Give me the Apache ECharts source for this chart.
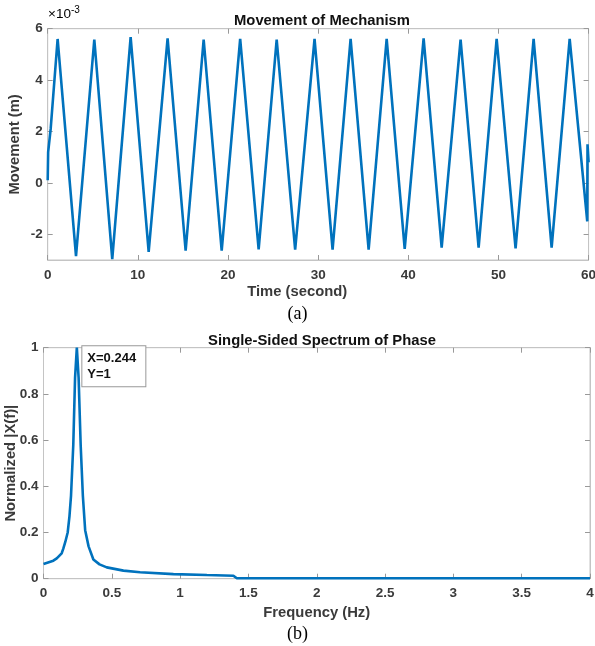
<!DOCTYPE html>
<html>
<head>
<meta charset="utf-8">
<script src="https://cdn.jsdelivr.net/npm/echarts@6/dist/echarts.min.js"></script>
<style>
  html, body { margin: 0; padding: 0; background: #fff; }
  #chart { width: 595px; height: 646px; }
</style>
</head>
<body>
<div id="chart"></div>
<script>
// (a) movement, values in units of 1e-3 m
var timeSec = [0, 0.05, 0.33, 1.1, 3.14, 5.17, 7.16, 9.2, 11.2, 13.3, 15.3, 17.3, 19.3, 21.35, 23.4, 25.4, 27.45,
  29.6, 31.6, 33.6, 35.6, 37.6, 39.6, 41.7, 43.7, 45.8, 47.8, 49.8, 51.9, 53.9, 55.9, 57.9, 59.85, 59.88, 60];
var movement = [0.1, 1.2, 2.1, 5.6, -2.85, 5.58, -2.97, 5.67, -2.68, 5.62, -2.64, 5.58, -2.64, 5.6, -2.59, 5.58, -2.6,
  5.6, -2.6, 5.6, -2.6, 5.6, -2.57, 5.62, -2.52, 5.58, -2.52, 5.6, -2.55, 5.6, -2.52, 5.6, -1.5, 1.5, 0.8];
var timeTicks = [0, 10, 20, 30, 40, 50, 60];
var moveTicks = [-2, 0, 2, 4, 6];

// (b) spectrum
var freqHz = [0, 0.072, 0.097, 0.133, 0.145, 0.16, 0.177, 0.19, 0.2015, 0.218, 0.231, 0.244, 0.257, 0.272, 0.288,
  0.305, 0.33, 0.365, 0.41, 0.463, 0.585, 0.707, 0.951, 1.196, 1.39, 1.415, 2.0, 3.0, 4.0];
var ampNorm = [0.064, 0.078, 0.088, 0.11, 0.13, 0.16, 0.2, 0.27, 0.36, 0.58, 0.87, 1, 0.87, 0.58, 0.36,
  0.21, 0.14, 0.083, 0.062, 0.049, 0.035, 0.028, 0.02, 0.016, 0.013, 0.002, 0.002, 0.002, 0.002];
var peakX = 0.244, peakY = 1;

var blue = '#0072BD';
var boxGray = '#c4c4c4';
var tickFont = { color: '#3a3a3a', fontWeight: 'bold', fontSize: 13.5, fontFamily: 'Liberation Sans' };
var nameFont = { color: '#3a3a3a', fontWeight: 'bold', fontSize: 14.8, fontFamily: 'Liberation Sans' };

function zip(a, b) {
  var r = [];
  for (var i = 0; i < a.length; i++) r.push([a[i], b[i]]);
  return r;
}

// mirrored box axis (top / right) with ticks only
function mirror(type, grid, min, max, interval, custom) {
  var ax = {
    type: 'value', gridIndex: grid, position: type === 'x' ? 'top' : 'right',
    min: min, max: max, interval: interval,
    axisLine: { show: true, onZero: false, lineStyle: { color: boxGray } },
    axisTick: { show: true, inside: true, length: 5, lineStyle: { color: '#999' } },
    axisLabel: { show: false },
    splitLine: { show: false }
  };
  if (custom) ax.axisTick.customValues = custom;
  return ax;
}

var chart = echarts.init(document.getElementById('chart'));
var option = {
  animation: false,
  backgroundColor: '#fff',
  title: [
    { text: 'Movement of Mechanism', left: 317, top: 8, textAlign: 'center',
      textStyle: { fontSize: 14.8, fontWeight: 'bold', color: '#111', fontFamily: 'Liberation Sans' } },
    { text: 'Single-Sided Spectrum of Phase', left: 317, top: 328, textAlign: 'center',
      textStyle: { fontSize: 14.8, fontWeight: 'bold', color: '#111', fontFamily: 'Liberation Sans' } }
  ],
  graphic: [
    { type: 'text', left: 48, top: 5, style: {
        text: '{a|×10}{b|-3}', rich: {
          a: { fontSize: 13.5, color: '#3a3a3a', fontFamily: 'Liberation Sans', verticalAlign: 'bottom', lineHeight: 16 },
          b: { fontSize: 10, color: '#3a3a3a', fontFamily: 'Liberation Sans', verticalAlign: 'top', lineHeight: 16 }
        } } },
    { type: 'text', left: 'center', top: 305, style: {
        text: '(a)', fontSize: 18, fontFamily: 'Liberation Serif', fill: '#000' } },
    { type: 'text', left: 'center', top: 625, style: {
        text: '(b)', fontSize: 18, fontFamily: 'Liberation Serif', fill: '#000' } }
  ],
  grid: [
    { left: 47.7, right: 6.4, top: 28.7, bottom: 386, show: true, borderColor: boxGray, borderWidth: 1,
      outerBoundsMode: 'none', containLabel: false },
    { left: 43.5, right: 5, top: 347.7, bottom: 67.3, show: true, borderColor: boxGray, borderWidth: 1,
      outerBoundsMode: 'none', containLabel: false }
  ],
  xAxis: [
    { type: 'value', gridIndex: 0, min: 0, max: 60, interval: 10,
      name: 'Time (second)', nameLocation: 'middle', nameGap: 24, nameMoveOverlap: false,
      nameTextStyle: Object.assign({ padding: [0, 42, 0, 0] }, nameFont),
      axisLine: { show: true, onZero: false, lineStyle: { color: boxGray } },
      axisTick: { show: true, inside: true, length: 5, lineStyle: { color: '#999' } },
      axisLabel: Object.assign({ margin: 8, customValues: timeTicks }, tickFont),
      splitLine: { show: false } },
    { type: 'value', gridIndex: 1, min: 0, max: 4, interval: 0.5,
      name: 'Frequency (Hz)', nameLocation: 'middle', nameGap: 27, nameMoveOverlap: false, nameTextStyle: nameFont,
      axisLine: { show: true, onZero: false, lineStyle: { color: boxGray } },
      axisTick: { show: true, inside: true, length: 5, lineStyle: { color: '#999' } },
      axisLabel: Object.assign({ margin: 8 }, tickFont),
      splitLine: { show: false } },
    mirror('x', 0, 0, 60, 10),
    mirror('x', 1, 0, 4, 0.5)
  ],
  yAxis: [
    { type: 'value', gridIndex: 0, min: -3, max: 6,
      name: 'Movement (m)', nameLocation: 'middle', nameGap: 25, nameMoveOverlap: false, nameTextStyle: nameFont,
      axisLine: { show: true, onZero: false, lineStyle: { color: boxGray } },
      axisTick: { show: true, inside: true, length: 5, lineStyle: { color: '#999' }, customValues: moveTicks },
      axisLabel: Object.assign({ margin: 5, customValues: moveTicks }, tickFont),
      splitLine: { show: false } },
    { type: 'value', gridIndex: 1, min: 0, max: 1, interval: 0.2,
      name: 'Normalized |X(f)|', nameLocation: 'middle', nameGap: 25, nameMoveOverlap: false, nameTextStyle: nameFont,
      axisLine: { show: true, onZero: false, lineStyle: { color: boxGray } },
      axisTick: { show: true, inside: true, length: 5, lineStyle: { color: '#999' } },
      axisLabel: Object.assign({ margin: 5 }, tickFont),
      splitLine: { show: false } },
    mirror('y', 0, -3, 6, null, moveTicks),
    mirror('y', 1, 0, 1, 0.2)
  ],
  series: [
    { type: 'line', xAxisIndex: 0, yAxisIndex: 0, data: zip(timeSec, movement),
      showSymbol: false, lineStyle: { color: blue, width: 2.6 }, clip: true },
    { type: 'line', xAxisIndex: 1, yAxisIndex: 1, data: zip(freqHz, ampNorm),
      showSymbol: false, lineStyle: { color: blue, width: 2.6 }, clip: true,
      markPoint: {
        symbol: 'rect', symbolSize: 1, itemStyle: { color: 'rgba(0,0,0,0)' },
        data: [{ coord: [peakX, peakY] }],
        label: {
          show: true, position: [6, -1],
          formatter: 'X=' + peakX + '\nY=' + peakY,
          color: '#111', fontWeight: 'bold', fontSize: 13, fontFamily: 'Liberation Sans',
          lineHeight: 16, align: 'left', verticalAlign: 'top',
          backgroundColor: '#fff', borderColor: '#999', borderWidth: 1,
          padding: [4, 6, 4, 5], width: 52
        }
      } }
  ]
};
chart.setOption(option);
</script>
</body>
</html>
